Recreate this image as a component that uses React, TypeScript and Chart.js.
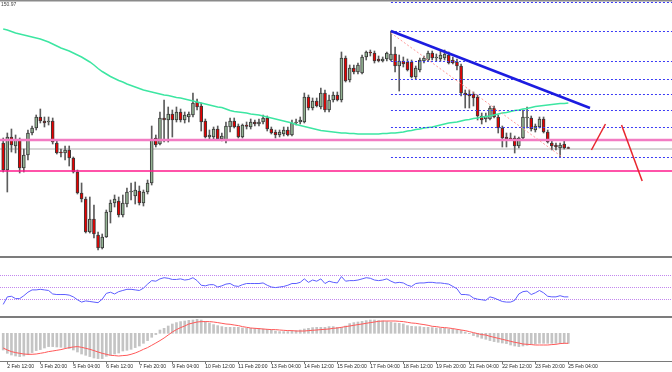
import React, { useEffect, useRef } from 'react';
import { Chart, registerables } from 'chart.js';
Chart.register(...registerables);

// ---------- DATA ----------
const OPEN = [
  151.57, 151.30, 151.63, 151.54, 151.60, 151.32, 151.45, 151.67, 151.72, 151.83,
  151.79, 151.78, 151.79, 151.57, 151.48, 151.47, 151.50, 151.42, 151.28, 151.07,
  151.01, 150.68, 150.81, 150.65, 150.52, 150.63, 150.88, 150.97, 150.99, 150.85,
  150.96, 151.08, 151.04, 151.09, 150.97, 151.08, 151.17, 151.62, 151.56, 151.82,
  151.80, 151.86, 151.80, 151.88, 151.80, 151.83, 151.85, 151.98, 151.94, 151.79,
  151.63, 151.63, 151.71, 151.61, 151.60, 151.73, 151.79, 151.74, 151.63, 151.75,
  151.73, 151.78, 151.76, 151.78, 151.82, 151.71, 151.68, 151.65, 151.66, 151.70,
  151.65, 151.77, 151.78, 151.78, 152.03, 151.92, 151.99, 151.93, 152.07, 151.90,
  152.00, 152.05, 152.00, 152.42, 152.20, 152.32, 152.28, 152.27, 152.43, 152.48,
  152.47, 152.41, 152.39, 152.41, 152.40, 152.46, 152.34, 152.39, 152.38, 152.38,
  152.23, 152.30, 152.39, 152.40, 152.47, 152.42, 152.41, 152.42, 152.45, 152.40,
  152.38, 152.34, 152.07, 152.06, 152.06, 152.03, 151.84, 151.81, 151.81, 151.92,
  151.83, 151.72, 151.63, 151.62, 151.62, 151.54, 151.62, 151.82, 151.82, 151.70,
  151.73, 151.81, 151.68, 151.57, 151.55, 151.52, 151.56, 151.525,
];
const HIGH = [
  151.62, 151.67, 151.71, 151.65, 151.62, 151.51, 151.70, 151.74, 151.85, 151.91,
  151.83, 151.83, 151.82, 151.60, 151.51, 151.54, 151.54, 151.43, 151.30, 151.17,
  151.03, 151.03, 150.95, 150.68, 150.66, 150.90, 151.00, 151.05, 151.03, 151.05,
  151.12, 151.17, 151.18, 151.14, 151.10, 151.20, 151.74, 151.65, 151.88, 152.00,
  151.93, 151.90, 151.93, 151.91, 151.88, 151.88, 152.07, 152.01, 151.97, 151.81,
  151.70, 151.73, 151.74, 151.67, 151.78, 151.82, 151.82, 151.76, 151.76, 151.78,
  151.81, 151.80, 151.81, 151.85, 151.84, 151.73, 151.70, 151.70, 151.73, 151.73,
  151.80, 151.81, 151.83, 152.07, 152.05, 152.02, 152.02, 152.12, 152.10, 152.05,
  152.08, 152.08, 152.48, 152.44, 152.35, 152.35, 152.37, 152.45, 152.49, 152.50,
  152.49, 152.44, 152.43, 152.48, 152.69, 152.53, 152.45, 152.43, 152.41, 152.40,
  152.34, 152.42, 152.44, 152.49, 152.49, 152.46, 152.50, 152.50, 152.48, 152.43,
  152.41, 152.36, 152.10, 152.10, 152.08, 152.05, 151.87, 151.87, 151.94, 151.94,
  151.85, 151.74, 151.67, 151.67, 151.64, 151.63, 151.90, 151.93, 151.84, 151.76,
  151.83, 151.83, 151.70, 151.59, 151.57, 151.57, 151.60, 151.53,
];
const LOW = [
  151.28, 151.08, 151.48, 151.47, 151.27, 151.28, 151.40, 151.65, 151.70, 151.77,
  151.73, 151.75, 151.56, 151.46, 151.43, 151.40, 151.34, 151.27, 151.06, 150.98,
  150.67, 150.67, 150.62, 150.50, 150.51, 150.625, 150.77, 150.93, 150.83, 150.83,
  150.93, 151.00, 150.96, 150.95, 150.94, 151.06, 151.15, 151.53, 151.55, 151.58,
  151.58, 151.63, 151.78, 151.78, 151.77, 151.78, 151.83, 151.90, 151.69, 151.62,
  151.61, 151.61, 151.60, 151.59, 151.57, 151.68, 151.72, 151.62, 151.62, 151.71,
  151.71, 151.74, 151.74, 151.76, 151.69, 151.66, 151.62, 151.63, 151.64, 151.64,
  151.64, 151.75, 151.76, 151.77, 151.90, 151.90, 151.93, 151.91, 151.88, 151.88,
  151.98, 151.99, 151.98, 152.18, 152.18, 152.26, 152.26, 152.26, 152.40, 152.44,
  152.37, 152.38, 152.38, 152.39, 152.39, 152.28, 152.09, 152.33, 152.29, 152.22,
  152.21, 152.28, 152.37, 152.39, 152.40, 152.39, 152.39, 152.40, 152.36, 152.36,
  152.30, 152.04, 151.92, 151.92, 151.94, 151.80, 151.76, 151.78, 151.80, 151.82,
  151.67, 151.53, 151.53, 151.60, 151.47, 151.52, 151.61, 151.72, 151.69, 151.68,
  151.72, 151.67, 151.57, 151.50, 151.50, 151.43, 151.51, 151.515,
];
const CLOSE = [
  151.30, 151.63, 151.55, 151.60, 151.32, 151.45, 151.67, 151.72, 151.83, 151.79,
  151.77, 151.79, 151.58, 151.47, 151.47, 151.50, 151.42, 151.28, 151.07, 151.01,
  150.68, 150.81, 150.66, 150.52, 150.63, 150.88, 150.97, 151.01, 150.85, 150.97,
  151.08, 151.09, 151.10, 150.97, 151.08, 151.17, 151.61, 151.55, 151.82, 151.80,
  151.86, 151.80, 151.88, 151.80, 151.85, 151.86, 151.97, 151.93, 151.78, 151.63,
  151.65, 151.71, 151.61, 151.64, 151.74, 151.79, 151.73, 151.63, 151.75, 151.735,
  151.78, 151.76, 151.78, 151.82, 151.71, 151.67, 151.65, 151.68, 151.70, 151.65,
  151.77, 151.78, 151.80, 152.03, 151.92, 151.99, 151.94, 152.07, 151.90, 152.00,
  152.05, 152.00, 152.42, 152.19, 152.32, 152.28, 152.35, 152.43, 152.48, 152.47,
  152.39, 152.39, 152.41, 152.47, 152.46, 152.34, 152.39, 152.36, 152.30, 152.23,
  152.32, 152.40, 152.42, 152.47, 152.42, 152.43, 152.45, 152.46, 152.37, 152.37,
  152.34, 152.07, 152.05, 152.04, 152.02, 151.84, 151.80, 151.84, 151.92, 151.83,
  151.72, 151.62, 151.61, 151.61, 151.54, 151.62, 151.83, 151.83, 151.71, 151.74,
  151.81, 151.68, 151.58, 151.54, 151.53, 151.55, 151.52, 151.515,
];
const MA = [
  152.71, 152.70, 152.685, 152.67, 152.66, 152.65, 152.64, 152.63, 152.62, 152.61,
  152.595, 152.58, 152.56, 152.54, 152.52, 152.505, 152.49, 152.47, 152.45, 152.43,
  152.405, 152.38, 152.35, 152.315, 152.285, 152.26, 152.235, 152.215, 152.195, 152.18,
  152.16, 152.145, 152.13, 152.115, 152.10, 152.09, 152.08, 152.07, 152.06, 152.05,
  152.045, 152.035, 152.025, 152.02, 152.01, 152.00, 151.99, 151.98, 151.97, 151.96,
  151.95, 151.94, 151.93, 151.925, 151.91, 151.895, 151.885, 151.88, 151.875, 151.87,
  151.86, 151.855, 151.85, 151.84, 151.83, 151.82, 151.81, 151.80, 151.79, 151.78,
  151.77, 151.755, 151.745, 151.735, 151.725, 151.715, 151.705, 151.695, 151.69, 151.685,
  151.68, 151.675, 151.67, 151.67, 151.665, 151.665, 151.66, 151.66, 151.66, 151.66,
  151.66, 151.66, 151.665, 151.665, 151.67, 151.67, 151.675, 151.68, 151.69, 151.695,
  151.705, 151.71, 151.72, 151.725, 151.73, 151.74, 151.75, 151.76, 151.77, 151.775,
  151.78, 151.79, 151.80, 151.805, 151.815, 151.82, 151.83, 151.835, 151.84, 151.85,
  151.86, 151.87, 151.875, 151.885, 151.895, 151.90, 151.91, 151.915, 151.925, 151.935,
  151.94, 151.945, 151.95, 151.955, 151.96, 151.965, 151.965, 151.97,
];
const RSI = [
  20, 33, 34, 30, 30, 35, 41, 45, 45, 46,
  45, 44, 38, 37, 37, 37, 36, 33, 28, 24,
  26, 25, 24, 23, 29, 39, 41, 38, 42, 44,
  46, 46, 45, 44, 48, 55, 61, 60, 64, 66,
  65, 63, 63, 64, 62, 63, 66, 61, 53, 52,
  54, 54, 50, 52, 55, 56, 52, 51, 54, 56,
  56, 56, 56, 57, 53, 50, 49, 50, 51, 53,
  56, 56, 58, 64, 58, 62, 60, 64, 56, 60,
  58, 57, 68, 60, 61, 61, 62, 64, 66, 65,
  62, 61, 62, 64, 60, 57, 58, 57, 53, 51,
  56, 57, 57, 58, 58, 57, 57, 56, 55, 51,
  47, 37, 37, 36, 31, 29, 28, 27, 33, 31,
  28, 25, 24, 24, 27, 38, 42, 43, 37, 40,
  44, 40, 34, 33, 33, 35, 33, 33,
];
const RSI_LEVELS = [70, 50, 30];
const MACD_HIST = [
  -0.167, -0.200, -0.217, -0.227, -0.233, -0.227, -0.213, -0.193, -0.173, -0.163,
  -0.147, -0.133, -0.133, -0.137, -0.140, -0.143, -0.153, -0.167, -0.187, -0.207,
  -0.220, -0.233, -0.247, -0.253, -0.253, -0.230, -0.217, -0.207, -0.197, -0.177,
  -0.170, -0.160, -0.143, -0.127, -0.100, -0.073, -0.040, -0.013, 0.033, 0.050,
  0.073, 0.093, 0.107, 0.117, 0.123, 0.130, 0.133, 0.140, 0.133, 0.120,
  0.103, 0.087, 0.077, 0.067, 0.060, 0.060, 0.060, 0.060, 0.053, 0.050,
  0.050, 0.050, 0.047, 0.043, 0.040, 0.033, 0.023, 0.017, 0.017, 0.017,
  0.020, 0.027, 0.033, 0.043, 0.050, 0.057, 0.060, 0.060, 0.060, 0.067,
  0.067, 0.060, 0.060, 0.073, 0.097, 0.107, 0.113, 0.120, 0.127, 0.133,
  0.133, 0.127, 0.123, 0.117, 0.110, 0.103, 0.100, 0.093, 0.077, 0.070,
  0.067, 0.067, 0.060, 0.060, 0.057, 0.053, 0.050, 0.050, 0.043, 0.040,
  0.033, 0.027, 0.013, -0.003, -0.023, -0.037, -0.050, -0.060, -0.073, -0.083,
  -0.090, -0.097, -0.103, -0.117, -0.127, -0.133, -0.127, -0.120, -0.110, -0.107,
  -0.100, -0.100, -0.100, -0.100, -0.100, -0.100, -0.100, -0.100,
];
const MACD_SIGNAL = [
  -0.147, -0.167, -0.183, -0.193, -0.200, -0.207, -0.210, -0.210, -0.207, -0.200,
  -0.193, -0.183, -0.177, -0.170, -0.163, -0.153, -0.143, -0.137, -0.133, -0.140,
  -0.150, -0.160, -0.173, -0.187, -0.200, -0.210, -0.220, -0.223, -0.227, -0.223,
  -0.220, -0.210, -0.197, -0.180, -0.160, -0.143, -0.120, -0.097, -0.073, -0.047,
  -0.017, 0.013, 0.037, 0.057, 0.073, 0.093, 0.103, 0.113, 0.117, 0.117,
  0.117, 0.113, 0.107, 0.100, 0.093, 0.090, 0.083, 0.077, 0.067, 0.060,
  0.053, 0.050, 0.047, 0.043, 0.040, 0.037, 0.037, 0.033, 0.030, 0.027,
  0.027, 0.023, 0.023, 0.023, 0.027, 0.030, 0.033, 0.037, 0.040, 0.043,
  0.050, 0.053, 0.060, 0.067, 0.073, 0.080, 0.087, 0.093, 0.100, 0.107,
  0.113, 0.120, 0.123, 0.123, 0.123, 0.123, 0.120, 0.117, 0.110, 0.103,
  0.100, 0.093, 0.087, 0.080, 0.070, 0.067, 0.060, 0.057, 0.053, 0.047,
  0.040, 0.033, 0.027, 0.017, 0.007, -0.003, -0.013, -0.017, -0.030, -0.040,
  -0.050, -0.060, -0.070, -0.080, -0.090, -0.097, -0.107, -0.110, -0.113, -0.117,
  -0.117, -0.117, -0.117, -0.113, -0.110, -0.103, -0.100, -0.100,
];
const TICK_INDEX = [1, 9, 17, 25, 33, 41, 49, 57, 65, 73, 81, 89, 97, 105, 113, 121, 129, 137];
const TICK_LABELS = [
  '2 Feb 12:00', '3 Feb 20:00', '5 Feb 04:00', '6 Feb 12:00', '7 Feb 20:00', '9 Feb 04:00',
  '10 Feb 12:00', '11 Feb 20:00', '13 Feb 04:00', '14 Feb 12:00', '15 Feb 20:00', '17 Feb 04:00',
  '18 Feb 12:00', '19 Feb 20:00', '21 Feb 04:00', '22 Feb 12:00', '23 Feb 20:00', '25 Feb 04:00',
];
const RESISTANCE = 151.60;
const PIVOT = 151.51;
const SUPPORT = 151.29;
const FIB_START = 94;
const FIB_LEVELS = [152.983, 152.69, 152.39, 152.21, 152.06, 151.905, 151.73, 151.43];
const TREND_BLUE = [[94, 152.69], [142.25, 151.92]];
const TREND_FIB = [[94, 152.67], [135.5, 151.43]];
const PROJECTION = [
  [[142.6, 151.50], [146.0, 151.76]],
  [[149.9, 151.75], [154.9, 151.19]],
];
const LAST_PRICE_TEXT = '150.97';

// ---------- LAYOUT ----------
const W = 672;
const X_MIN = -0.776;
const X_MAX = 162.13;
const SEP = '#7c7c7c';
const FONT = '"Liberation Sans", Arial, sans-serif';

function seg(ctx: CanvasRenderingContext2D, x1: number, y1: number, x2: number, y2: number, color: string, width: number, dash: number[] = []) {
  ctx.save();
  ctx.beginPath();
  ctx.setLineDash(dash);
  ctx.strokeStyle = color;
  ctx.lineWidth = width;
  ctx.moveTo(x1, y1);
  ctx.lineTo(x2, y2);
  ctx.stroke();
  ctx.restore();
}

const mainOverlay = {
  id: 'mainOverlay',
  beforeDatasetsDraw(chart: any) {
    const { ctx } = chart;
    const y = chart.scales.y;
    seg(ctx, 0, y.getPixelForValue(PIVOT), chart.width, y.getPixelForValue(PIVOT), '#d5d5d5', 2);
  },
  afterDatasetsDraw(chart: any) {
    const { ctx } = chart;
    const x = chart.scales.x;
    const y = chart.scales.y;
    const w = chart.width;
    const P = (p: number[]) => [x.getPixelForValue(p[0]), y.getPixelForValue(p[1])];
    seg(ctx, 0, y.getPixelForValue(RESISTANCE), w, y.getPixelForValue(RESISTANCE), '#f27cc3', 2.5);
    seg(ctx, 0, y.getPixelForValue(SUPPORT), w, y.getPixelForValue(SUPPORT), '#ff1a8c', 1.5);
    const fx = x.getPixelForValue(FIB_START);
    FIB_LEVELS.forEach((lv) => {
      const py = Math.round(y.getPixelForValue(lv)) + 0.5;
      seg(ctx, fx, py, w, py, '#3b3bf5', 1, [2, 2]);
    });
    const [a1, b1] = [P(TREND_FIB[0]), P(TREND_FIB[1])];
    seg(ctx, a1[0], a1[1], b1[0], b1[1], '#ff9a9a', 1, [2, 2]);
    const [a2, b2] = [P(TREND_BLUE[0]), P(TREND_BLUE[1])];
    seg(ctx, a2[0], a2[1], b2[0], b2[1], '#1c1ce0', 2.5);
    PROJECTION.forEach((l) => {
      const [a, b] = [P(l[0]), P(l[1])];
      seg(ctx, a[0], a[1], b[0], b[1], '#e8262e', 1.5);
    });
    ctx.save();
    ctx.fillStyle = '#8a8a8a';
    ctx.fillRect(0, 0, w, 1.5);
    ctx.fillStyle = SEP;
    ctx.fillRect(0, chart.height - 1, w, 1);
    ctx.fillStyle = '#444';
    ctx.font = `5px ${FONT}`;
    ctx.textBaseline = 'top';
    ctx.fillText(LAST_PRICE_TEXT, 1, 2);
    ctx.restore();
  },
};

const rsiOverlay = {
  id: 'rsiOverlay',
  beforeDatasetsDraw(chart: any) {
    const { ctx } = chart;
    const y = chart.scales.y;
    RSI_LEVELS.forEach((lv) => {
      const py = Math.round(y.getPixelForValue(lv)) + 0.5;
      seg(ctx, 0, py, chart.width, py, '#c286ee', 1, [1, 1]);
    });
  },
  afterDraw(chart: any) {
    const { ctx } = chart;
    ctx.save();
    ctx.fillStyle = SEP;
    ctx.fillRect(0, 0, chart.width, 1);
    ctx.fillRect(0, chart.height - 1, chart.width, 1);
    ctx.restore();
  },
};

const macdOverlay = {
  id: 'macdOverlay',
  afterDraw(chart: any) {
    const { ctx } = chart;
    ctx.save();
    ctx.fillStyle = SEP;
    ctx.fillRect(0, 0, chart.width, 1);
    ctx.restore();
  },
};

const hiddenX = { type: 'linear', min: X_MIN, max: X_MAX, offset: false, display: false, grid: { offset: false } };
const baseOptions = {
  responsive: false,
  animation: false,
  events: [],
  layout: { padding: 0, autoPadding: false },
  plugins: { legend: { display: false }, tooltip: { enabled: false } },
};

export default function App() {
  const mainRef = useRef<HTMLCanvasElement>(null);
  const rsiRef = useRef<HTMLCanvasElement>(null);
  const macdRef = useRef<HTMLCanvasElement>(null);

  useEffect(() => {
    const charts: Chart[] = [];
    const bodyColors = OPEN.map((o, i) => (CLOSE[i] >= o ? '#93b393' : '#e80000'));

    charts.push(new Chart(mainRef.current as HTMLCanvasElement, {
      type: 'bar',
      data: {
        datasets: [
          {
            type: 'line',
            data: MA.map((v, i) => ({ x: i, y: v })),
            borderColor: '#3de6a2',
            borderWidth: 1.5,
            pointRadius: 0,
            order: 0,
          } as any,
          {
            type: 'bar',
            data: OPEN.map((o, i) => ({ x: i, y: [o, CLOSE[i]] })),
            backgroundColor: bodyColors,
            borderColor: '#3a3a3a',
            borderWidth: 1,
            borderSkipped: false,
            barThickness: 3,
            grouped: false,
            order: 1,
          } as any,
          {
            type: 'bar',
            data: LOW.map((l, i) => ({ x: i, y: [l, HIGH[i]] })),
            backgroundColor: '#5c5c5c',
            barThickness: 1,
            grouped: false,
            order: 2,
          } as any,
        ],
      },
      options: {
        ...baseOptions,
        scales: {
          x: hiddenX,
          y: { type: 'linear', min: 150.43, max: 153.0, display: false },
        },
      } as any,
      plugins: [mainOverlay],
    }));

    charts.push(new Chart(rsiRef.current as HTMLCanvasElement, {
      type: 'line',
      data: {
        datasets: [{
          data: RSI.map((v, i) => ({ x: i, y: v })),
          borderColor: '#5c5cff',
          borderWidth: 1,
          pointRadius: 0,
        }],
      },
      options: {
        ...baseOptions,
        scales: {
          x: hiddenX,
          y: { type: 'linear', min: -1.7, max: 101.7, display: false },
        },
      } as any,
      plugins: [rsiOverlay],
    }));

    charts.push(new Chart(macdRef.current as HTMLCanvasElement, {
      type: 'bar',
      data: {
        datasets: [
          {
            type: 'line',
            data: MACD_SIGNAL.map((v, i) => ({ x: i, y: v })),
            borderColor: '#ff5858',
            borderWidth: 1,
            pointRadius: 0,
            order: 0,
          } as any,
          {
            type: 'bar',
            data: MACD_HIST.map((v, i) => ({ x: i, y: v })),
            backgroundColor: '#c4c4c4',
            barThickness: 2,
            grouped: false,
            order: 1,
          } as any,
        ],
      },
      options: {
        ...baseOptions,
        scales: {
          x: {
            type: 'linear',
            min: X_MIN,
            max: X_MAX,
            offset: false,
            position: 'bottom',
            afterBuildTicks: (axis: any) => { axis.ticks = TICK_INDEX.map((v) => ({ value: v })); },
            afterFit: (axis: any) => { axis.height = 11; },
            ticks: {
              autoSkip: false,
              maxRotation: 0,
              minRotation: 0,
              align: 'start',
              padding: 0,
              color: '#1e1e1e',
              font: { family: FONT, size: 5 },
              callback: (v: any) => {
                const k = TICK_INDEX.indexOf(Number(v));
                return k >= 0 ? TICK_LABELS[k] : '';
              },
            },
            grid: { display: true, drawOnChartArea: false, drawTicks: true, tickLength: 3, color: '#7a7a7a', offset: false },
            border: { display: true, color: '#7a7a7a', width: 1 },
          },
          y: { type: 'linear', min: -0.277, max: 0.163, display: false },
        },
      } as any,
      plugins: [macdOverlay],
    }));

    return () => charts.forEach((c) => c.destroy());
  }, []);

  return (
    <div style={{ position: 'absolute', left: 0, top: 0, width: W, height: 372, background: '#fff', overflow: 'hidden' }}>
      <canvas ref={mainRef} width={W} height={257} style={{ position: 'absolute', left: 0, top: 0 }} />
      <canvas ref={rsiRef} width={W} height={60} style={{ position: 'absolute', left: 0, top: 257 }} />
      <canvas ref={macdRef} width={W} height={55} style={{ position: 'absolute', left: 0, top: 317 }} />
    </div>
  );
}
